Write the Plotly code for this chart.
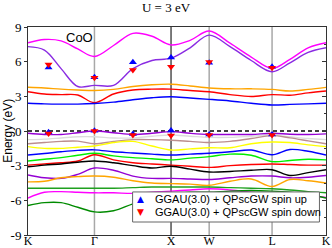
import plotly.graph_objects as go

# k-path coordinates (fraction of path length)
k_ticks = [0.0, 0.223, 0.480, 0.608, 0.819, 1.0]
k_labels = ["K", "Γ", "X", "W", "L", "K"]
kgrid = [0.0, 0.055, 0.111, 0.167, 0.223, 0.287, 0.352, 0.416, 0.480,
         0.544, 0.608, 0.678, 0.749, 0.819, 0.879, 0.940, 1.0]

# conduction bands (eV)
cb_magenta = [7.64, 7.92, 7.8, 7.1, 6.45, 7.4, 8.45, 8.2, 7.45, 7.85, 8.65, 7.6, 6.4, 5.42, 6.2, 7.2, 7.64]
cb_violet = [7.3, 7.0, 5.4, 3.85, 3.95, 3.95, 5.4, 6.1, 6.3, 7.2, 8.3, 7.3, 6.1, 5.13, 5.9, 6.8, 7.2]
cb_orange = [3.78, 3.72, 3.62, 3.55, 3.5, 3.6, 3.85, 4.0, 4.05, 3.9, 3.72, 3.65, 3.65, 3.6, 3.46, 3.6, 3.78]
cb_red = [3.4, 3.2, 3.15, 3.12, 2.45, 3.2, 3.55, 3.62, 3.62, 3.5, 3.4, 3.15, 2.98, 3.15, 3.1, 3.3, 3.46]
cb_blue = [2.4, 2.35, 2.33, 2.33, 2.38, 2.5, 2.7, 2.88, 2.97, 2.85, 2.74, 2.6, 2.4, 2.25, 2.3, 2.35, 2.4]

# valence bands (eV)
vb_violet = [-0.2, -0.3, -0.3, -0.15, 0.0, -0.15, -0.3, -0.2, -0.05, -0.2, -0.3, -0.3, -0.3, -0.2, -0.28, -0.3, -0.25]
vb_grey = [-0.75, -0.7, -0.6, -0.5, -0.5, -0.6, -0.6, -0.45, -0.35, -0.45, -0.55, -0.55, -0.45, -0.35, -0.5, -0.65, -0.75]
vb_brown = [-1.1, -1.0, -0.9, -0.88, -1.1, -0.9, -0.75, -0.75, -0.8, -0.9, -1.0, -0.9, -0.65, -0.4, -0.6, -0.85, -1.1]
vb_yellow = [-1.35, -1.5, -1.5, -1.4, -1.3, -1.0, -0.9, -1.3, -1.65, -1.55, -1.45, -1.45, -1.1, -0.95, -1.0, -1.2, -1.35]
vb_blue = [-2.08, -1.95, -1.8, -1.68, -1.63, -1.8, -1.9, -2.0, -2.08, -2.0, -1.93, -1.8, -1.65, -2.05, -1.6, -1.75, -2.08]
vb_green = [-2.6, -2.45, -2.3, -2.1, -1.93, -2.15, -2.3, -2.4, -2.5, -2.35, -2.22, -2.0, -2.1, -2.65, -2.55, -2.45, -2.5]
vb_red = [-2.95, -2.85, -2.75, -2.6, -2.05, -2.5, -2.75, -2.85, -2.95, -3.05, -3.15, -3.0, -2.9, -2.85, -2.9, -2.95, -2.95]
vb_black = [-3.1, -2.95, -2.85, -2.7, -2.6, -2.75, -3.0, -3.2, -3.05, -3.3, -3.55, -3.5, -3.4, -3.35, -3.85, -3.6, -3.35]
vb_violet2 = [-3.8, -4.05, -4.1, -3.75, -3.2, -3.4, -3.9, -4.1, -4.1, -4.15, -4.2, -4.05, -3.9, -3.9, -4.05, -4.0, -3.85]
vb_orange = [-4.4, -4.35, -4.05, -3.95, -3.9, -4.0, -4.3, -4.5, -4.55, -4.6, -4.7, -4.35, -4.15, -4.8, -4.2, -4.3, -4.5]
vb_dgreen = [-4.95, -4.95, -4.95, -4.95, -4.95, -4.95, -4.9, -4.85, -4.85, -4.85, -4.85, -4.9, -4.95, -5.0, -5.1, -5.25, -5.35]
vb_magenta = [-5.8, -5.3, -5.25, -5.3, -5.35, -5.35, -5.4, -5.3, -5.2, -5.1, -5.0, -5.1, -5.3, -5.5, -5.55, -5.6, -5.75]
vb_green4 = [-6.45, -6.2, -6.2, -6.6, -7.0, -6.9, -6.3, -5.8, -5.5, -5.3, -5.3, -5.2, -5.15, -5.2, -5.3, -5.5, -5.8]

# QPscGW points
k_qp = [0.069, 0.223, 0.352, 0.480, 0.608, 0.819]
qp_up_cb = [5.5, 4.65, 5.94, 6.37, 5.91, 5.55]
qp_dn_cb = [5.75, 4.6, 5.28, 5.56, 5.97, 5.48]
qp_up_vb = [-0.11, 0.03, -0.25, 0.05, -0.3, -0.3]
qp_dn_vb = [-0.22, 0.0, -0.35, -0.4, -0.35, -0.35]

series_names = ["GGAU(3.0) + QPscGW spin up", "GGAU(3.0) + QPscGW spin down"]
series_colors = ["#0000ff", "#ff0000"]
series_symbols = ["▲", "▼"]

y_ticks = [-9, -6, -3, 0, 3, 6, 9]
y_ticklabels = ["-9", "-6", "-3", "0", "3", "6", "9"]

bands = [
    (cb_magenta, "#ff00ff"), (cb_violet, "#8a2be2"), (cb_orange, "#ffa500"),
    (cb_red, "#ff0000"), (cb_blue, "#0000ff"),
    (vb_grey, "#dcdcdc"), (vb_brown, "#bc8f8f"), (vb_yellow, "#ffff00"),
    (vb_blue, "#0000ff"), (vb_green, "#00ee00"), (vb_red, "#ff0000"),
    (vb_black, "#000000"), (vb_violet2, "#9400d3"), (vb_orange, "#ffa500"),
    (vb_dgreen, "#1fa01f"), (vb_magenta, "#ff00ff"), (vb_green4, "#008b00"),
    (vb_violet, "#9400d3"),
]

fig = go.Figure()
for vals, col in bands:
    fig.add_trace(go.Scatter(x=kgrid, y=vals, mode="lines",
                             line=dict(color=col, width=1.4, shape="spline", smoothing=1.0),
                             showlegend=False, hoverinfo="skip"))

fig.add_trace(go.Scatter(x=k_qp + k_qp, y=qp_up_cb + qp_up_vb, mode="markers",
                         marker=dict(symbol="triangle-up", size=7, color=series_colors[0]),
                         name=series_names[0], showlegend=False))
fig.add_trace(go.Scatter(x=k_qp + k_qp, y=qp_dn_cb + qp_dn_vb, mode="markers",
                         marker=dict(symbol="triangle-down", size=7, color=series_colors[1]),
                         name=series_names[1], showlegend=False))
# invisible trace to activate the right-hand mirror axis
fig.add_trace(go.Scatter(x=[None], y=[None], yaxis="y2", showlegend=False, hoverinfo="skip"))

shapes = []
for kx, col in zip(k_ticks[1:-1], ["#a8a8a8", "#505050", "#a8a8a8", "#a8a8a8"]):
    shapes.append(dict(type="line", xref="x", yref="paper", x0=kx, x1=kx, y0=0, y1=1,
                       line=dict(color=col, width=1.5), layer="below"))
shapes.append(dict(type="line", xref="paper", yref="y", x0=0, x1=1, y0=0, y1=0,
                   line=dict(color="black", width=1.3, dash="4px,3px"), layer="below"))
# legend box
shapes.append(dict(type="rect", xref="paper", yref="paper", x0=0.351, x1=0.978,
                   y0=0.0625, y1=0.207, fillcolor="white",
                   line=dict(color="#666", width=1), layer="above"))

serif = "Liberation Serif"
sans = "Liberation Sans"

annotations = [
    dict(text="CoO", x=0.173, y=8.05, xref="paper", yref="y", showarrow=False,
         xanchor="center", yanchor="middle",
         font=dict(family=sans, size=13, color="black")),
    dict(text="Energy (eV)", x=-0.068, y=0.5, xref="paper", yref="paper",
         xanchor="center", yanchor="middle",
         textangle=-90, showarrow=False,
         font=dict(family=sans, size=12, color="black")),
]
for i, (nm, col, sym) in enumerate(zip(series_names, series_colors, series_symbols)):
    yy = 0.173 - i * 0.064
    annotations.append(dict(text=sym, x=0.379, y=yy, xref="paper", yref="paper",
                            showarrow=False, xanchor="center", yanchor="middle",
                            font=dict(family="DejaVu Sans", size=9, color=col)))
    annotations.append(dict(text=nm, x=0.42, y=yy, xref="paper", yref="paper",
                            showarrow=False, xanchor="left", yanchor="middle",
                            font=dict(family=sans, size=11, color="black")))

fig.update_layout(
    width=332, height=248,
    margin=dict(l=28, r=6, t=27, b=13, autoexpand=False),
    paper_bgcolor="white", plot_bgcolor="white",
    showlegend=False,
    title=dict(text="U = 3 eV", x=0.5, xanchor="center", y=0.972, yanchor="middle",
               font=dict(family=serif, size=13, color="black")),
    xaxis=dict(range=[0, 1], tickvals=k_ticks, ticktext=k_labels, ticks="",
               showgrid=False, zeroline=False, showline=True, mirror=True,
               linecolor="#333", linewidth=1, ticklabelstandoff=-5,
               tickfont=dict(family=serif, size=12, color="black")),
    yaxis=dict(range=[-9, 9], tickvals=y_ticks, ticktext=y_ticklabels,
               ticks="outside", ticklen=3, tickcolor="#333",
               showgrid=False, zeroline=False, showline=True, mirror=True,
               linecolor="#333", linewidth=1,
               tickfont=dict(family=serif, size=13, color="black")),
    yaxis2=dict(range=[-9, 9], overlaying="y", side="right", tickvals=y_ticks,
                showticklabels=False, ticks="inside", ticklen=4, tickcolor="#333",
                showgrid=False, zeroline=False,
                minor=dict(ticks="inside", ticklen=2, dtick=1.5, tick0=0, tickcolor="#333")),
    shapes=shapes,
    annotations=annotations,
)

fig.write_html("out.html", config={"displayModeBar": False},
               post_script="document.body.style.margin='0';document.body.style.overflow='hidden';")
